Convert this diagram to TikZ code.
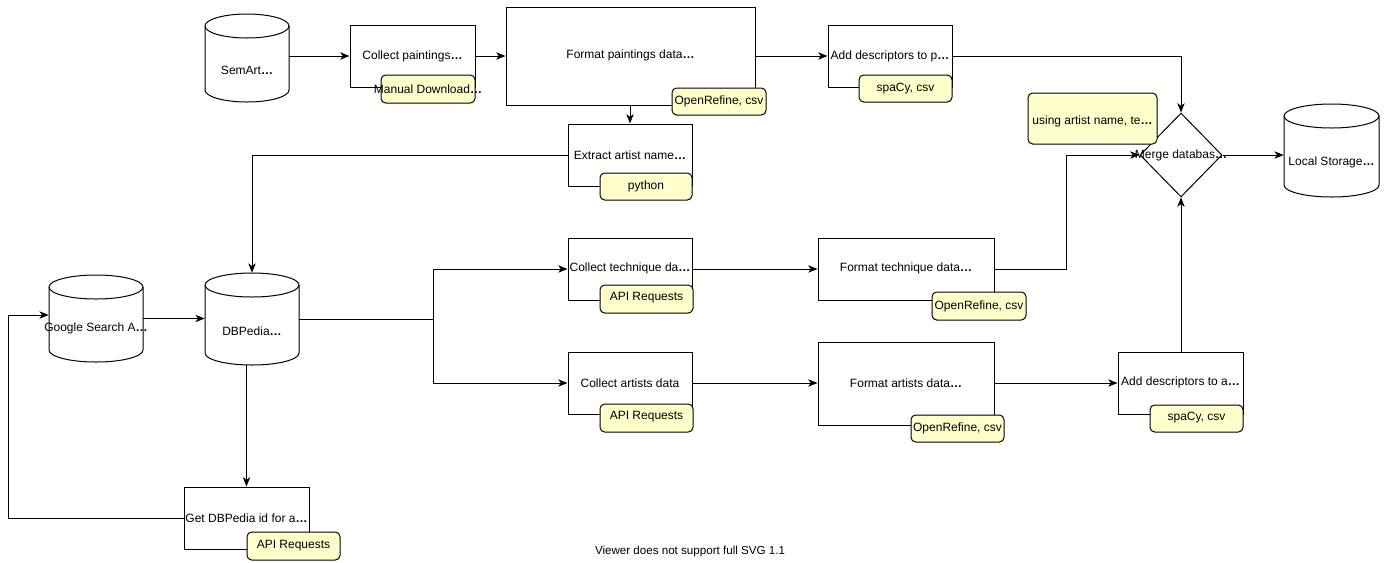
\documentclass[tikz,border=0pt]{standalone}
\usepackage{fontspec}
\setmainfont{Liberation Sans}
\usetikzlibrary{shapes.geometric,arrows.meta,calc}
\definecolor{note}{HTML}{FFFFCC}
\newcommand\dd{\textbf{…}}
\newcommand\cyl[7]{%
 \pgfmathsetmacro\cylcx{(#2+#4)/2}\pgfmathsetmacro\cylcy{(#3+#5)/2}%
 \pgfmathsetmacro\cylrx{(#4-#2)/2*0.75}\pgfmathsetmacro\cylry{12*0.75}%
 \pgfmathsetmacro\cyltT{#3+12}\pgfmathsetmacro\cylbB{#5-12}%
 \node[inner sep=0pt, wh={#4-#2}{#5-#3}] (#1) at (\cylcx,\cylcy) {};
 \draw[line width=0.75pt, fill=white] (#2,\cyltT) -- (#2,\cylbB)
   arc[start angle=180,end angle=360,x radius=\cylrx pt,y radius=\cylry pt]
   -- (#4,\cyltT)
   arc[start angle=0,end angle=180,x radius=\cylrx pt,y radius=\cylry pt] -- cycle;
 \draw[line width=0.75pt] (#2,\cyltT) arc[start angle=180,end angle=360,x radius=\cylrx pt,y radius=\cylry pt];
 \node[lbl] (#1-t) at (\cylcx,#6) {#7};
}
\begin{document}
\begin{tikzpicture}[x=0.75pt,y=-0.75pt, font=\fontsize{9}{11}\selectfont,
 box/.style={draw, line width=0.75pt, fill=white, inner sep=0pt},
 tag/.style={draw, line width=0.75pt, fill=note, rounded corners=3.5pt, inner sep=0pt},
 lbl/.style={inner sep=0pt, align=center},
 wh/.style 2 args={minimum width=(#1)*0.75pt, minimum height=(#2)*0.75pt},
 arr/.style={draw, line width=0.75pt, -{Stealth[length=7pt,width=5.5pt,inset=2pt]}},
 ln/.style={draw, line width=0.75pt}]
\useasboundingbox (0,0) rectangle (1387,562);

% cylinders
\cyl{semart}{205}{14}{289}{102}{70}{SemArt\dd}
\cyl{google}{49}{275}{143}{362}{328}{}
\cyl{dbpedia}{205}{273}{299}{365}{331}{DBPedia\dd}
\cyl{local}{1284}{104}{1379}{197}{162}{Local Storage\dd}

% boxes
\node[box, wh={125}{62}] (collectP) at (412.5,56) {};
\node[box, wh={249}{98}] (formatP) at (630.5,56) {};
\node[box, wh={124}{62}] (addP) at (890,56) {};
\node[box, wh={124}{62}] (extract) at (630,155) {};
\node[box, wh={124}{62}] (collectT) at (630,269) {};
\node[box, wh={176}{62}] (formatT) at (906,269) {};
\node[box, wh={124}{62}] (collectA) at (630,383) {};
\node[box, wh={176}{83}] (formatA) at (906,383.5) {};
\node[box, wh={125}{62}] (addA) at (1180.5,383) {};
\node[box, wh={125}{62}] (getid) at (246.5,518) {};
\node[draw, diamond, line width=0.75pt, fill=white, inner sep=0pt, wh={82}{84}] (merge) at (1181,155) {};

% tags
\node[tag, wh={94}{28}] (tManual) at (428,89) {};
\node[tag, wh={94}{27}] (tOrP) at (719,101.5) {};
\node[tag, wh={93}{27}] (tSpP) at (905.5,88.5) {};
\node[tag, wh={92}{27}] (tPy) at (646,186.5) {};
\node[tag, wh={93}{28}] (tApiT) at (646.5,299) {};
\node[tag, wh={94}{28}] (tOrT) at (979,306) {};
\node[tag, wh={93}{28}] (tApiA) at (646.5,418) {};
\node[tag, wh={93}{27}] (tOrA) at (957.5,428.5) {};
\node[tag, wh={93}{27}] (tSpA) at (1196.5,418.5) {};
\node[tag, wh={93}{28}] (tApiG) at (293.5,546) {};
\node[tag, wh={129}{51}] (tUsing) at (1092.5,118.5) {};

% coordinates
\coordinate (split) at (433,319);
\coordinate (jt) at (1066,155);
\coordinate (lp) at (8,315);

% connectors
\draw[arr] (semart.east |- collectP.west) -- (collectP.west);
\draw[arr] (collectP.east) -- (collectP.east -| formatP.west);
\draw[arr] (formatP.east) -- (formatP.east -| addP.west);
\draw[arr] (addP.east) -| (merge.north);
\draw[arr] (formatP.south -| extract.north) -- (extract.north);
\draw[arr] (extract.west) -| (dbpedia.north);
\draw[arr] (google.east) -- (google.east -| dbpedia.west);
\draw[ln] (dbpedia.east |- split) -- (split);
\draw[arr] (split) |- (collectT.west);
\draw[arr] (split) |- (collectA.west);
\draw[arr] (getid.north |- dbpedia.south) -- (getid.north);
\draw[arr] (getid.west) -| (lp) -- (lp -| google.west);
\draw[arr] (collectT.east) -- (formatT.west);
\draw[arr] (formatT.east) -| (jt) -- (merge.west);
\draw[arr] (collectA.east) -- (collectA.east -| formatA.west);
\draw[arr] (formatA.east |- addA.west) -- (addA.west);
\draw[arr] (addA.north -| merge.south) -- (merge.south);
\draw[arr] (merge.east) -- (merge.east -| local.west);

% texts
\node[lbl] (xCollectP) at (412.5,56) {Collect paintings\dd};
\node[lbl] (xFormatP) at (630.5,55) {Format paintings data\dd};
\node[lbl] (xAddP) at (890,56) {Add descriptors to p\dd};
\node[lbl] (xExtract) at (630,155) {Extract artist name\dd};
\node[lbl] (xCollectT) at (630,268) {Collect technique da\dd};
\node[lbl] (xFormatT) at (906,268) {Format technique data\dd};
\node[lbl] (xCollectA) at (630,383) {Collect artists data};
\node[lbl] (xFormatA) at (906,383) {Format artists data\dd};
\node[lbl] (xAddA) at (1180.5,382) {Add descriptors to a\dd};
\node[lbl] (xGetid) at (246.5,518) {Get DBPedia id for a\dd};
\node[lbl] (xMerge) at (1181,155) {Merge databas\dd};
\node[lbl] (xGoogle) at (96,328) {Google Search A\dd};

\node[lbl] (xManual) at (428,89) {Manual Download\dd};
\node[lbl] (xOrP) at (719,101.5) {OpenRefine, csv};
\node[lbl] (xSpP) at (905.5,88.5) {spaCy, csv};
\node[lbl] (xPy) at (646,186.5) {python};
\node[lbl] (xApiT) at (646.5,298) {API Requests};
\node[lbl] (xOrT) at (979,306) {OpenRefine, csv};
\node[lbl] (xApiA) at (646.5,417) {API Requests};
\node[lbl] (xOrA) at (957.5,428.5) {OpenRefine, csv};
\node[lbl] (xSpA) at (1196.5,418) {spaCy, csv};
\node[lbl] (xApiG) at (293.5,546) {API Requests};
\node[lbl] (xUsing) at (1092.5,121) {using artist name, te\dd};

\node[lbl, font=\fontsize{8.7}{10}\selectfont] (footer) at (690,551) {Viewer does not support full SVG 1.1};
\end{tikzpicture}
\end{document}
